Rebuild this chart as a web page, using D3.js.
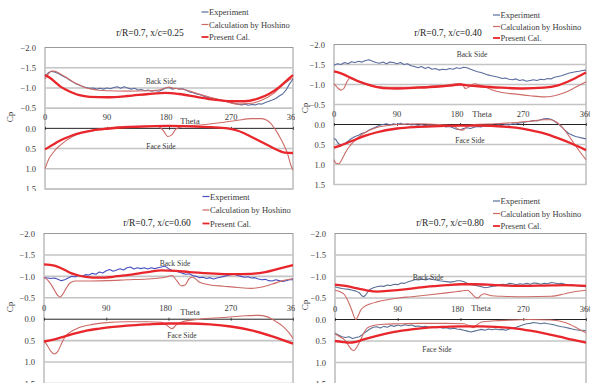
<!DOCTYPE html>
<html>
<head>
<meta charset="utf-8">
<script src="https://cdn.jsdelivr.net/npm/d3@7"></script>
<style>
  html, body { margin: 0; padding: 0; background: #ffffff; }
  svg { display: block; font-family: "Liberation Serif", "DejaVu Serif", serif; }
</style>
</head>
<body>
<svg id="chart" width="590" height="383"></svg>
<script>
// ---- axis ticks and labels ----
const thetaTicks = [0, 90, 180, 270, 360];
const cpTicks = [-2.0, -1.5, -1.0, -0.5, 0.0, 0.5, 1.0, 1.5];
const seriesNames = ["Experiment", "Calculation by Hoshino", "Present Cal."];
const panelTitles = ["r/R=0.7, x/c=0.25", "r/R=0.7, x/c=0.40", "r/R=0.7, x/c=0.60", "r/R=0.7, x/c=0.80"];

// ---- x/c = 0.25 : [theta, Cp] ----
const p1ExpBack = [[0,-1.28],[5,-1.38],[10,-1.41],[15,-1.39],[20,-1.35],[25,-1.3],[30,-1.26],[35,-1.2],[40,-1.15],[45,-1.1],[50,-1.07],[55,-1.03],[60,-1.01],[65,-0.99],[70,-1.0],[75,-0.97],[80,-0.99],[85,-0.97],[90,-1.0],[95,-0.98],[100,-1.01],[105,-1.03],[110,-0.99],[115,-1.03],[120,-1.0],[125,-0.97],[130,-0.99],[135,-0.95],[140,-0.96],[145,-0.93],[150,-0.95],[155,-0.92],[160,-0.94],[165,-0.92],[170,-0.95],[175,-1.0],[180,-1.01],[185,-0.97],[190,-0.99],[195,-0.97],[200,-0.98],[205,-0.94],[210,-0.9],[215,-0.88],[220,-0.85],[225,-0.83],[230,-0.8],[235,-0.77],[240,-0.75],[245,-0.72],[250,-0.71],[255,-0.69],[260,-0.67],[265,-0.66],[270,-0.64],[275,-0.62],[280,-0.6],[285,-0.58],[290,-0.6],[295,-0.57],[300,-0.59],[305,-0.58],[310,-0.61],[315,-0.6],[320,-0.64],[325,-0.67],[330,-0.7],[335,-0.74],[340,-0.8],[345,-0.85],[350,-0.95],[355,-1.1],[360,-1.22]];
const p1HosBack = [[0,-1.22],[3,-1.3],[6,-1.37],[10,-1.42],[15,-1.41],[20,-1.37],[30,-1.27],[40,-1.16],[50,-1.07],[60,-1.0],[75,-0.95],[90,-0.93],[120,-0.92],[150,-0.93],[165,-0.95],[175,-1.0],[180,-1.02],[187,-0.99],[195,-0.98],[205,-0.95],[220,-0.87],[240,-0.77],[260,-0.68],[280,-0.6],[300,-0.62],[315,-0.7],[330,-0.84],[345,-1.07],[355,-1.2],[360,-1.24]];
const p1PreBack = [[0,-1.32],[8,-1.24],[15,-1.14],[22,-1.04],[30,-0.96],[40,-0.88],[50,-0.82],[65,-0.78],[90,-0.77],[120,-0.8],[150,-0.85],[175,-0.88],[195,-0.85],[220,-0.78],[245,-0.71],[270,-0.67],[290,-0.67],[310,-0.74],[325,-0.85],[340,-1.02],[350,-1.17],[360,-1.32]];
const p1HosFace = [[0,1.0],[3,0.86],[6,0.74],[10,0.64],[15,0.53],[22,0.42],[30,0.31],[40,0.2],[55,0.1],[70,0.04],[90,-0.01],[120,-0.05],[150,-0.06],[165,-0.04],[172,0.06],[178,0.2],[184,0.16],[190,0.02],[200,-0.05],[230,-0.09],[260,-0.15],[280,-0.2],[300,-0.24],[315,-0.24],[322,-0.2],[328,-0.12],[334,0.02],[341,0.22],[347,0.42],[352,0.62],[357,0.92],[360,1.03]];
const p1PreFace = [[0,0.52],[10,0.42],[20,0.32],[30,0.24],[40,0.17],[55,0.1],[70,0.05],[90,0.01],[120,-0.03],[150,-0.05],[180,-0.06],[210,-0.05],[240,-0.03],[265,0.0],[280,0.06],[295,0.17],[310,0.3],[325,0.43],[338,0.54],[348,0.6],[360,0.61]];

// ---- x/c = 0.40 ----
const p2ExpBack = [[0,-1.48],[5,-1.52],[10,-1.5],[15,-1.55],[20,-1.52],[25,-1.57],[30,-1.55],[35,-1.58],[40,-1.56],[45,-1.6],[50,-1.62],[55,-1.58],[60,-1.55],[65,-1.53],[70,-1.56],[75,-1.52],[80,-1.56],[85,-1.55],[90,-1.52],[95,-1.55],[100,-1.5],[105,-1.52],[110,-1.47],[115,-1.45],[120,-1.42],[125,-1.45],[130,-1.4],[135,-1.43],[140,-1.38],[145,-1.4],[150,-1.36],[155,-1.38],[160,-1.37],[165,-1.4],[170,-1.38],[175,-1.42],[180,-1.4],[185,-1.43],[190,-1.42],[195,-1.38],[200,-1.35],[205,-1.32],[210,-1.3],[215,-1.27],[220,-1.24],[225,-1.22],[230,-1.2],[235,-1.18],[240,-1.15],[245,-1.16],[250,-1.13],[255,-1.12],[260,-1.14],[265,-1.1],[270,-1.12],[275,-1.08],[280,-1.1],[285,-1.12],[290,-1.1],[295,-1.13],[300,-1.12],[305,-1.15],[310,-1.14],[315,-1.18],[320,-1.2],[325,-1.22],[330,-1.25],[335,-1.28],[340,-1.3],[345,-1.32],[350,-1.33],[355,-1.35],[360,-1.36]];
const p2HosBack = [[0,-1.02],[5,-0.92],[10,-0.86],[14,-0.9],[18,-1.05],[22,-1.15],[28,-1.12],[35,-1.06],[45,-1.0],[60,-0.95],[80,-0.93],[100,-0.93],[130,-0.95],[160,-0.98],[175,-1.02],[182,-1.02],[188,-0.9],[194,-0.95],[200,-1.02],[210,-0.98],[225,-0.87],[240,-0.8],[260,-0.76],[280,-0.72],[300,-0.69],[315,-0.72],[330,-0.8],[345,-0.93],[360,-1.07]];
const p2PreBack = [[0,-1.33],[10,-1.28],[20,-1.2],[30,-1.12],[40,-1.05],[50,-0.99],[60,-0.94],[70,-0.91],[90,-0.9],[120,-0.92],[150,-0.95],[170,-0.98],[180,-1.0],[190,-0.98],[210,-0.95],[240,-0.92],[270,-0.9],[300,-0.92],[320,-0.98],[340,-1.12],[360,-1.3]];
const p2ExpFace = [[0,0.35],[3,0.38],[5,0.45],[8,0.5],[10,0.52],[15,0.48],[20,0.42],[25,0.35],[30,0.3],[35,0.27],[40,0.22],[45,0.2],[50,0.14],[55,0.1],[60,0.06],[65,0.02],[70,0.0],[75,-0.02],[80,0.01],[85,-0.02],[90,0.0],[95,-0.03],[100,0.0],[105,-0.02],[110,0.01],[115,0.0],[120,0.02],[125,0.0],[130,0.03],[135,0.01],[140,0.04],[145,0.02],[150,0.05],[155,0.03],[160,0.06],[165,0.05],[170,0.08],[175,0.12],[180,0.13],[185,0.1],[190,0.08],[195,0.1],[200,0.07],[205,0.05],[210,0.06],[215,0.03],[220,0.04],[225,0.02],[230,0.03],[235,0.01],[240,0.02],[245,0.0],[250,0.01],[255,-0.02],[260,-0.01],[265,-0.04],[270,-0.05],[275,-0.07],[280,-0.08],[285,-0.1],[290,-0.09],[295,-0.12],[300,-0.14],[305,-0.15],[310,-0.13],[315,-0.08],[320,-0.02],[325,0.05],[330,0.15],[335,0.22],[340,0.26],[345,0.3],[350,0.32],[355,0.34],[360,0.36]];
const p2HosFace = [[0,0.88],[3,0.97],[7,0.98],[12,0.85],[17,0.68],[22,0.55],[30,0.4],[40,0.25],[50,0.15],[60,0.08],[75,0.03],[90,0.0],[120,-0.02],[150,0.0],[170,0.03],[178,0.12],[184,0.14],[190,0.05],[200,0.0],[230,-0.02],[260,-0.05],[280,-0.08],[300,-0.12],[310,-0.12],[320,-0.03],[330,0.15],[340,0.4],[350,0.65],[360,0.88]];
const p2PreFace = [[0,0.58],[10,0.52],[20,0.45],[30,0.38],[45,0.28],[60,0.2],[90,0.1],[120,0.06],[150,0.04],[180,0.03],[210,0.03],[240,0.05],[260,0.08],[280,0.14],[300,0.22],[320,0.34],[340,0.48],[360,0.64]];

// ---- x/c = 0.60 ----
const p3ExpBack = [[0,-0.97],[5,-0.96],[10,-0.95],[15,-0.96],[20,-0.93],[25,-0.9],[30,-0.92],[35,-0.96],[40,-1.0],[45,-0.99],[50,-1.02],[55,-1.0],[60,-1.04],[65,-1.03],[70,-1.07],[75,-1.05],[80,-1.1],[85,-1.08],[90,-1.13],[95,-1.16],[100,-1.12],[105,-1.15],[110,-1.18],[115,-1.15],[120,-1.2],[125,-1.22],[130,-1.17],[135,-1.2],[140,-1.18],[145,-1.2],[150,-1.17],[155,-1.2],[160,-1.18],[165,-1.2],[170,-1.22],[175,-1.24],[180,-1.18],[185,-1.14],[190,-1.12],[195,-1.1],[200,-1.07],[205,-1.05],[210,-1.06],[215,-1.02],[220,-1.0],[225,-0.97],[230,-0.98],[235,-0.95],[240,-0.97],[245,-0.94],[250,-0.96],[255,-0.98],[260,-1.0],[265,-1.02],[270,-1.04],[275,-1.05],[280,-1.02],[285,-1.0],[290,-0.98],[295,-0.99],[300,-0.96],[305,-0.97],[310,-0.94],[315,-0.92],[320,-0.93],[325,-0.9],[330,-0.89],[335,-0.92],[340,-0.9],[345,-0.88],[350,-0.9],[355,-0.92],[360,-0.92]];
const p3HosBack = [[0,-0.98],[5,-0.92],[10,-0.82],[15,-0.68],[20,-0.55],[23,-0.52],[27,-0.58],[32,-0.72],[38,-0.85],[45,-0.89],[60,-0.89],[90,-0.9],[120,-0.92],[150,-0.94],[175,-0.98],[185,-1.02],[192,-0.9],[198,-0.78],[204,-0.8],[210,-0.95],[215,-0.98],[225,-0.86],[240,-0.8],[260,-0.77],[280,-0.74],[300,-0.72],[315,-0.75],[330,-0.82],[345,-0.9],[360,-0.95]];
const p3PreBack = [[0,-1.28],[15,-1.25],[30,-1.15],[40,-1.07],[50,-1.02],[60,-0.99],[80,-0.97],[100,-0.99],[120,-1.03],[150,-1.1],[170,-1.14],[190,-1.13],[210,-1.1],[240,-1.07],[270,-1.05],[300,-1.06],[320,-1.1],[340,-1.18],[360,-1.26]];
const p3HosFace = [[0,0.5],[5,0.62],[10,0.75],[15,0.81],[20,0.75],[25,0.58],[30,0.42],[38,0.3],[50,0.2],[70,0.12],[90,0.08],[120,0.06],[150,0.06],[170,0.07],[178,0.15],[185,0.22],[192,0.12],[200,0.06],[225,0.0],[260,-0.04],[290,-0.08],[310,-0.09],[322,-0.06],[335,0.05],[345,0.16],[355,0.33],[360,0.45]];
const p3PreFace = [[0,0.52],[15,0.47],[30,0.4],[45,0.33],[60,0.27],[80,0.22],[100,0.18],[120,0.15],[150,0.12],[180,0.1],[210,0.1],[240,0.12],[270,0.17],[300,0.26],[330,0.4],[360,0.57]];

// ---- x/c = 0.80 ----
const p4ExpBack = [[0,-0.76],[5,-0.74],[10,-0.72],[15,-0.71],[20,-0.7],[25,-0.68],[30,-0.66],[35,-0.62],[38,-0.56],[41,-0.53],[44,-0.57],[47,-0.64],[50,-0.7],[55,-0.74],[60,-0.76],[65,-0.78],[70,-0.77],[75,-0.8],[80,-0.79],[85,-0.82],[90,-0.81],[95,-0.85],[100,-0.84],[105,-0.88],[110,-0.9],[115,-0.93],[120,-0.92],[125,-0.94],[130,-0.92],[135,-0.95],[140,-0.93],[145,-0.92],[150,-0.9],[155,-0.89],[160,-0.88],[165,-0.87],[170,-0.88],[175,-0.9],[180,-0.9],[185,-0.88],[190,-0.84],[195,-0.81],[200,-0.8],[205,-0.78],[210,-0.76],[215,-0.74],[220,-0.75],[225,-0.77],[230,-0.78],[235,-0.8],[240,-0.82],[245,-0.81],[250,-0.84],[255,-0.83],[260,-0.81],[265,-0.83],[270,-0.82],[275,-0.84],[280,-0.82],[285,-0.85],[290,-0.84],[295,-0.82],[300,-0.84],[305,-0.83],[310,-0.86],[315,-0.85],[320,-0.83],[325,-0.84],[330,-0.82],[335,-0.8],[340,-0.81],[345,-0.79],[350,-0.78],[355,-0.77],[360,-0.76]];
const p4HosBack = [[0,-0.68],[8,-0.64],[14,-0.57],[19,-0.42],[24,-0.22],[28,-0.04],[30,0.0],[33,-0.08],[37,-0.22],[42,-0.3],[50,-0.36],[60,-0.41],[75,-0.46],[90,-0.5],[110,-0.53],[133,-0.57],[160,-0.62],[180,-0.66],[190,-0.68],[196,-0.6],[201,-0.52],[205,-0.5],[209,-0.56],[214,-0.6],[222,-0.56],[240,-0.54],[275,-0.53],[310,-0.54],[330,-0.6],[345,-0.65],[360,-0.68]];
const p4PreBack = [[0,-0.81],[15,-0.78],[30,-0.73],[45,-0.68],[60,-0.65],[80,-0.67],[100,-0.7],[130,-0.76],[160,-0.8],[180,-0.82],[200,-0.82],[230,-0.8],[270,-0.78],[300,-0.79],[330,-0.8],[360,-0.78]];
const p4ExpFace = [[0,0.32],[5,0.36],[10,0.4],[15,0.42],[20,0.4],[25,0.44],[30,0.42],[35,0.4],[40,0.34],[45,0.28],[50,0.22],[55,0.18],[60,0.17],[65,0.2],[70,0.16],[75,0.18],[80,0.14],[85,0.16],[90,0.13],[95,0.15],[100,0.12],[105,0.14],[110,0.13],[115,0.16],[120,0.15],[125,0.17],[130,0.16],[135,0.18],[140,0.17],[145,0.19],[150,0.18],[155,0.2],[160,0.19],[165,0.22],[170,0.2],[175,0.22],[180,0.23],[185,0.25],[190,0.27],[195,0.29],[200,0.27],[205,0.25],[210,0.23],[215,0.25],[220,0.22],[225,0.24],[230,0.22],[235,0.24],[240,0.23],[245,0.25],[250,0.22],[255,0.2],[260,0.18],[265,0.15],[270,0.12],[275,0.1],[280,0.09],[285,0.07],[290,0.08],[295,0.1],[300,0.08],[305,0.1],[310,0.11],[315,0.13],[320,0.15],[325,0.17],[330,0.18],[335,0.2],[340,0.22],[345,0.24],[350,0.25],[355,0.25],[360,0.26]];
const p4HosFace = [[0,0.33],[7,0.4],[14,0.48],[20,0.62],[24,0.7],[27,0.72],[31,0.65],[36,0.5],[41,0.32],[46,0.2],[55,0.14],[70,0.11],[90,0.1],[120,0.09],[160,0.09],[185,0.1],[193,0.15],[199,0.19],[204,0.12],[210,0.06],[230,0.03],[260,0.01],[280,0.0],[310,0.01],[330,0.07],[345,0.18],[355,0.27],[360,0.31]];
const p4PreFace = [[0,0.5],[10,0.52],[20,0.54],[30,0.52],[40,0.47],[60,0.38],[85,0.29],[110,0.23],[133,0.19],[160,0.17],[180,0.16],[210,0.16],[230,0.17],[260,0.21],[280,0.26],[300,0.32],[322,0.4],[340,0.47],[360,0.54]];

// ---- styling ----
const colExp = "#5b6d9e";
const colHos = "#cc6a66";
const colPre = "#e8262b";
const colText = "#3a3a3a";
const colGrid = "#c4c4c4";

// ---- panel layout ----
const panels = [
  { title: panelTitles[0], box: { l: 45, r: 293, t: 47.5, b: 189 }, clip: { x: 0, y: 0, w: 295, h: 191 },
    titlePos: [150, 36], legend: { x: 201.5, y: 12, dy: 12.5 }, expColor: colExp,
    back: [p1ExpBack, p1HosBack, p1PreBack], face: [null, p1HosFace, p1PreFace],
    backLbl: [161, 84], faceLbl: [161, 149], thetaLbl: [190, 124], cpLbl: [10, 117] },
  { title: panelTitles[1], box: { l: 334, r: 586, t: 44.5, b: 184.5 }, clip: { x: 296, y: 0, w: 294, h: 191 },
    titlePos: [448, 36], legend: { x: 493, y: 15, dy: 11.5 }, expColor: colExp,
    back: [p2ExpBack, p2HosBack, p2PreBack], face: [p2ExpFace, p2HosFace, p2PreFace],
    backLbl: [472, 57], faceLbl: [470, 143], thetaLbl: [482, 117], cpLbl: [305, 108] },
  { title: panelTitles[2], box: { l: 44, r: 293, t: 233.5, b: 383.5 }, clip: { x: 0, y: 191, w: 295, h: 192 },
    titlePos: [157, 226], legend: { x: 202.5, y: 196.5, dy: 13.5 }, expColor: "#4650c0",
    back: [p3ExpBack, p3HosBack, p3PreBack], face: [null, p3HosFace, p3PreFace],
    backLbl: [175, 266], faceLbl: [182, 338], thetaLbl: [190, 315], cpLbl: [10, 307] },
  { title: panelTitles[3], box: { l: 335, r: 586, t: 233.5, b: 384 }, clip: { x: 296, y: 191, w: 294, h: 192 },
    titlePos: [450, 226], legend: { x: 493, y: 201, dy: 12.5 }, expColor: "#5a7094",
    back: [p4ExpBack, p4HosBack, p4PreBack], face: [p4ExpFace, p4HosFace, p4PreFace],
    backLbl: [428, 280], faceLbl: [437, 352], thetaLbl: [481, 311], cpLbl: [305, 305] }
];

const svg = d3.select("#chart");
const defs = svg.append("defs");

panels.forEach((p, i) => {
  const cid = "clip" + i;
  defs.append("clipPath").attr("id", cid)
    .append("rect").attr("x", p.clip.x).attr("y", p.clip.y).attr("width", p.clip.w).attr("height", p.clip.h);

  const g = svg.append("g").attr("clip-path", `url(#${cid})`);

  const x = d3.scaleLinear().domain([0, 360]).range([p.box.l, p.box.r]);
  const y = d3.scaleLinear().domain([-2.0, 1.5]).range([p.box.t, p.box.b]);

  // plot frame
  g.append("rect")
    .attr("x", p.box.l).attr("y", p.box.t)
    .attr("width", p.box.r - p.box.l).attr("height", p.box.b - p.box.t)
    .attr("fill", "#fff").attr("stroke", "#9a9a9a").attr("stroke-width", 1);

  // horizontal grid
  g.append("g").selectAll("line")
    .data(cpTicks.filter(v => v !== 0 && v !== -2.0))
    .join("line")
    .attr("x1", p.box.l).attr("x2", p.box.r)
    .attr("y1", d => y(d)).attr("y2", d => y(d))
    .attr("stroke", colGrid).attr("stroke-width", 1.6);

  // y axis with tick labels
  const yAxis = d3.axisLeft(y).tickValues(cpTicks).tickFormat(d3.format(".1f")).tickSize(0).tickPadding(9);
  const ya = g.append("g").attr("transform", `translate(${p.box.l},0)`).call(yAxis);
  ya.select(".domain").remove();
  ya.selectAll("text").attr("font-size", 8.5).attr("fill", colText)
    .attr("font-family", "Liberation Serif, serif");

  // zero line (theta axis) with tick marks
  const xAxis = d3.axisBottom(x).tickValues(thetaTicks).tickSize(3).tickFormat("");
  const xa = g.append("g").attr("transform", `translate(0,${y(0) - 1.5})`).call(xAxis);
  xa.select(".domain").remove();
  xa.selectAll(".tick line").attr("stroke", "#555");
  g.append("line")
    .attr("x1", p.box.l).attr("x2", p.box.r)
    .attr("y1", y(0)).attr("y2", y(0))
    .attr("stroke", "#222").attr("stroke-width", 1);

  // theta tick labels, sitting above the zero line
  g.append("g").selectAll("text")
    .data(thetaTicks)
    .join("text")
    .attr("x", d => x(d) - (d === 180 ? 3 : 0)).attr("y", y(0) - 8)
    .attr("text-anchor", "middle")
    .attr("font-size", 8.5).attr("fill", colText)
    .text(d => d);

  // series
  const line = d3.line().x(d => x(d[0])).y(d => y(d[1]));
  const smooth = d3.line().x(d => x(d[0])).y(d => y(d[1])).curve(d3.curveMonotoneX);
  const styles = [
    { color: p.expColor, width: 1.1, gen: line },
    { color: colHos, width: 1.1, gen: smooth },
    { color: colPre, width: 2.3, gen: smooth }
  ];
  const lines = g.append("g").attr("fill", "none").attr("stroke-linejoin", "round");
  [0, 1, 2].forEach(k => {
    [p.back[k], p.face[k]].forEach(series => {
      if (!series) return;
      lines.append("path")
        .attr("d", styles[k].gen(series))
        .attr("stroke", styles[k].color)
        .attr("stroke-width", styles[k].width);
    });
  });

  // annotations
  const ann = g.append("g").attr("font-size", 7.5).attr("fill", colText).attr("text-anchor", "middle");
  ann.append("text").attr("x", p.backLbl[0]).attr("y", p.backLbl[1]).text("Back Side");
  ann.append("text").attr("x", p.faceLbl[0]).attr("y", p.faceLbl[1]).text("Face Side");
  ann.append("text").attr("x", p.thetaLbl[0]).attr("y", p.thetaLbl[1]).attr("font-size", 8.5).text("Theta");

  // Cp axis title
  g.append("text")
    .attr("transform", `translate(${p.cpLbl[0] + 3},${p.cpLbl[1]}) rotate(-90)`)
    .attr("text-anchor", "middle").attr("font-size", 9).attr("fill", colText)
    .text("Cp");

  // panel title
  g.append("text")
    .attr("x", p.titlePos[0]).attr("y", p.titlePos[1])
    .attr("text-anchor", "middle").attr("font-size", 9.5).attr("fill", "#222")
    .text(p.title);

  // legend
  const lg = g.append("g");
  seriesNames.forEach((name, k) => {
    const ly = p.legend.y + k * p.legend.dy;
    lg.append("line")
      .attr("x1", p.legend.x).attr("x2", p.legend.x + 7)
      .attr("y1", ly).attr("y2", ly)
      .attr("stroke", styles[k].color).attr("stroke-width", k === 2 ? 1.8 : 1.2);
    lg.append("text")
      .attr("x", p.legend.x + 7.5).attr("y", ly + 3)
      .attr("font-size", 8.5).attr("fill", colText)
      .text(name);
  });
});
</script>
</body>
</html>
